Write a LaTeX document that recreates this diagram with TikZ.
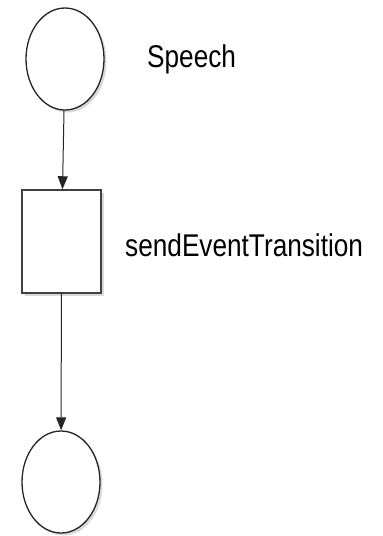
\documentclass[tikz,border=0pt]{standalone}
\usepackage{fontspec}
\setmainfont{Liberation Sans}
\usetikzlibrary{arrows.meta, positioning, shapes.geometric, shadows}

\begin{document}
\begin{tikzpicture}[x=1pt, y=-1pt,
    place/.style={ellipse, draw=black!85, line width=1.3pt, fill=white,
      minimum width=78pt, minimum height=102pt, inner sep=0pt,
      drop shadow={shadow xshift=2.5pt, shadow yshift=-2.5pt, opacity=0.3}},
    trans/.style={rectangle, draw=black!75, line width=1.5pt, fill=white,
      minimum width=79pt, minimum height=103pt, inner sep=0pt,
      drop shadow={shadow xshift=2.5pt, shadow yshift=-2.5pt, opacity=0.3}},
    lbl/.style={anchor=base west, inner sep=0pt, yscale=1.2, transform shape,
      font=\fontsize{26.2}{30}\selectfont},
    arc/.style={-{Triangle[length=13pt, width=10pt]}, line width=1pt, black!85}]
  \useasboundingbox (0,0) rectangle (383,536);

  \node[place] (P1) at (65,59) {};
  \node[trans] (T1) at (61.5,241.5) {};
  \node[place] (P2) at (61,482) {};

  \node[lbl] (L1) at (147,67) {Speech};
  \node[lbl] (L2) at (125,256.5) {sendEventTransition};

  \draw[arc] (P1) -- (T1);
  \draw[arc] (T1) -- (P2);
\end{tikzpicture}
\end{document}
